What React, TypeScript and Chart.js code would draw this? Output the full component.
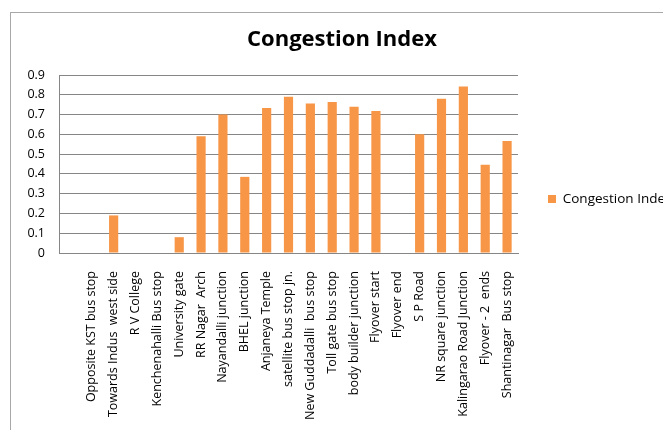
import React, { useEffect, useRef } from "react";
import { Chart, registerables } from "chart.js";

Chart.register(...registerables);

const TITLE = "Congestion Index";
const SERIES_NAME = "Congestion Index";

const categories: string[] = [
  "",
  "Opposite KST bus stop",
  "Towards Indus  west side",
  "R V College",
  "Kenchenahalli Bus stop",
  "University gate",
  "RR Nagar  Arch",
  "Nayandalli junction",
  "BHEL junction",
  "Anjaneya Temple",
  "satellite bus stop jn.",
  "New Guddadalli  bus stop",
  "Toll gate bus stop",
  "body builder junction",
  "Flyover start",
  "Flyover end",
  "S P Road",
  "NR square junction",
  "Kalingarao Road Junction",
  "Flyover - 2  ends",
  "Shantinagar  Bus stop",
];

const congestionValues: (number | null)[] = [
  null, 0, 0.19, 0, 0, 0.08, 0.59, 0.70, 0.385, 0.733, 0.79, 0.756, 0.763,
  0.74, 0.718, 0, 0.60, 0.78, 0.842, 0.446, 0.566,
];

const yTicks: number[] = [0, 0.1, 0.2, 0.3, 0.4, 0.5, 0.6, 0.7, 0.8, 0.9];

const FONT = "'Open Sans', Lato, sans-serif";

// canvas geometry relative to the page
const CW = 760;
const CH = 458;
const OFF_X = -40;
const OFF_Y = -30;

export default function App() {
  const ref = useRef<HTMLCanvasElement | null>(null);

  useEffect(() => {
    const canvas = ref.current;
    if (!canvas) return;
    canvas.width = CW;
    canvas.height = CH;

    const fs = 13.5;
    const ctx = canvas.getContext("2d")!;
    ctx.save();
    ctx.font = `${fs}px ${FONT}`;
    const textW = ctx.measureText(SERIES_NAME).width;
    ctx.restore();
    const boxW = 8;
    const legendPad = 30;
    const iw = boxW + fs / 2 + textW;
    const legendItemX = 548;
    const titleCenter = 342;
    // Chart.js adds 10px to a vertical legend's width
    const legendRight = legendItemX + iw + 10;
    const left = 2 * titleCenter - legendRight;
    const pl = left - OFF_X;
    const pr = CW - (legendRight - OFF_X);
    const plotLeft = 59;
    const plotTop = 75;
    const plotBottom = 253;
    const xBottom = OFF_Y + CH;

    const titleSize = 22;
    const titleLH = titleSize * 1.2;
    const titleMid = 40;
    const tPadTop = titleMid - OFF_Y - titleLH / 2;
    const tPadBottom = plotTop - OFF_Y - tPadTop - titleLH;

    const chart = new Chart(canvas, {
      type: "bar",
      data: {
        labels: categories,
        datasets: [
          {
            label: SERIES_NAME,
            data: congestionValues,
            backgroundColor: "#F79646",
            borderWidth: 0,
            categoryPercentage: 1,
            barPercentage: 0.42,
          },
        ],
      },
      options: {
        responsive: false,
        animation: false,
        devicePixelRatio: 1,
        layout: { padding: { left: pl, right: pr, top: 0, bottom: 0 } },
        plugins: {
          title: {
            display: true,
            text: TITLE,
            color: "#000",
            font: { family: FONT, size: titleSize, weight: "bold", lineHeight: 1.2 },
            padding: { top: tPadTop, bottom: tPadBottom },
          },
          legend: {
            display: true,
            position: "right",
            align: "center",
            maxWidth: 400,
            labels: {
              boxWidth: boxW,
              boxHeight: 8,
              padding: legendPad,
              color: "#000",
              font: { family: FONT, size: fs },
            },
          },
          tooltip: { enabled: false },
        },
        scales: {
          x: {
            grid: { display: false, drawTicks: false },
            border: { display: true, color: "#868686", width: 1 },
            ticks: {
              autoSkip: false,
              maxRotation: 90,
              minRotation: 90,
              padding: 18,
              color: "#000",
              font: { family: FONT, size: 12.5 },
            },
            afterFit: (scale: any) => {
              scale.height = xBottom - plotBottom;
            },
          },
          y: {
            min: 0,
            max: 0.9,
            afterBuildTicks: (scale: any) => {
              scale.ticks = yTicks.map((v) => ({ value: v }));
            },
            grid: { color: "#868686", drawTicks: false },
            border: { display: true, color: "#868686", width: 1 },
            ticks: {
              padding: 14,
              color: "#000",
              font: { family: FONT, size: 12.5 },
              callback: (v: any) => String(Math.round(Number(v) * 10) / 10),
            },
            afterFit: (scale: any) => {
              scale.width = plotLeft - left;
            },
          },
        },
      },
    });
    return () => chart.destroy();
  }, []);

  return (
    <div
      style={{
        position: "fixed",
        left: 0,
        top: 0,
        width: 663,
        height: 430,
        overflow: "hidden",
        background: "#fff",
      }}
    >
      <div
        style={{
          position: "absolute",
          left: 10,
          top: 12,
          width: 900,
          height: 700,
          borderTop: "1px solid #a8a8a8",
          borderLeft: "1px solid #a8a8a8",
        }}
      />
      <canvas
        ref={ref}
        style={{ position: "absolute", left: OFF_X, top: OFF_Y, width: CW, height: CH }}
      />
    </div>
  );
}
